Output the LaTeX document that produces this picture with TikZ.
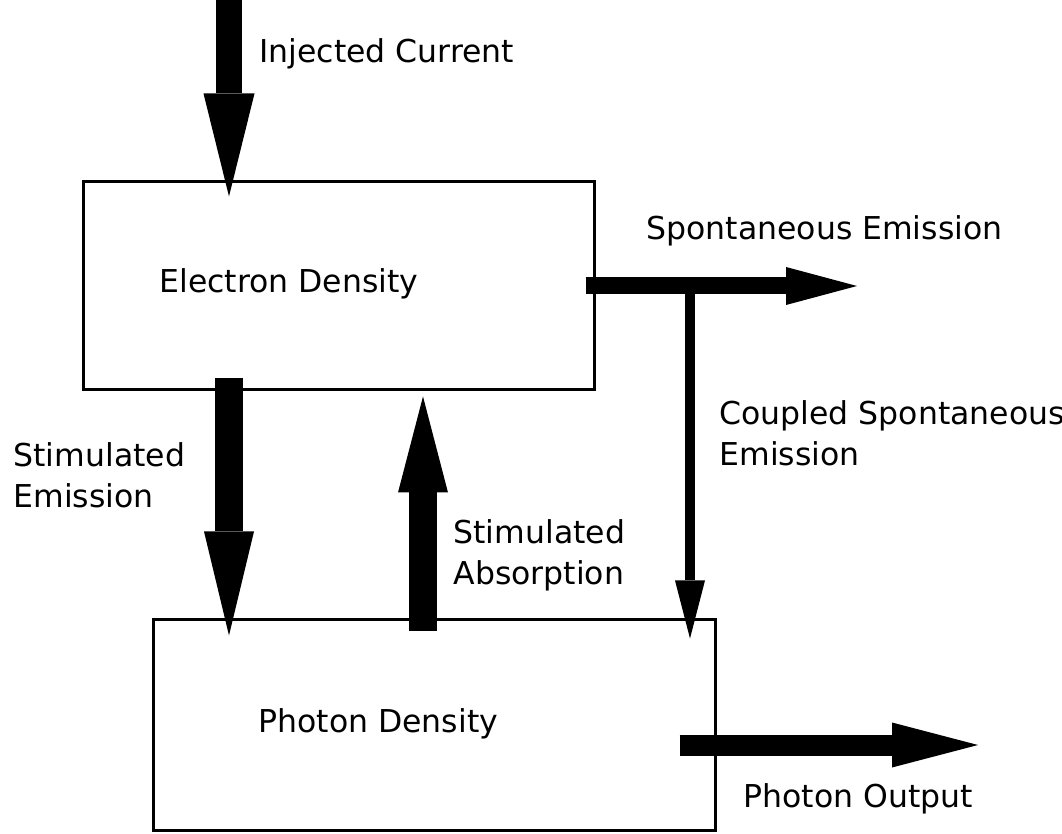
\documentclass[tikz,border=0pt]{standalone}
\usepackage{fontspec}
\setsansfont{DejaVu Sans}
\usetikzlibrary{arrows.meta, positioning, calc}
\tikzset{
  every picture/.style={font=\sffamily\fontsize{15.75}{20.5}\selectfont, line width=1.5pt},
  box/.style 2 args={draw, minimum width=#1, minimum height=#2, inner sep=0pt},
  flow/.style n args={3}{line width=#1, -{Triangle[length=#2, width=#3, line width=0pt 0]}},
  note/.style={inner sep=0pt, align=left},
}

\begin{document}
\begin{tikzpicture}[x=0.5pt, y=-0.5pt]
  \useasboundingbox (0,0) rectangle (1062,834);
  % the two rate equations
  \node[box={255.5pt}{104pt}] (eden) at (338.5,286) {};
  \node[box={281pt}{105pt}] (pden) at (434,725) {};
  \node[note, anchor=base west] (edenlab) at (158,293) {Electron Density};
  \node[note, anchor=base west] (pdenlab) at (257,733) {Photon Density};

  % free ends of the flows
  \coordinate (inj) at (229,0);
  \coordinate (sp) at (857,286);
  \coordinate (cs) at (690,286);
  \coordinate (se) at (229,0);
  \coordinate (sa) at (423,0);
  \coordinate (po) at (978,745);

  \draw[flow={13pt}{51.5pt}{25.5pt}] (inj) -- ($(eden.north -| inj)+(0,16)$);
  \draw[flow={8.5pt}{35.5pt}{19pt}] ($(eden.east)+(-10,0)$) -- (sp);
  \draw[flow={5pt}{29pt}{15pt}] (cs) -- ($(pden.north -| cs)+(0,20)$);
  \draw[flow={14pt}{52pt}{25pt}] ($(eden.south -| se)+(0,-13)$) -- ($(pden.north -| se)+(0,17)$);
  \draw[flow={14pt}{48pt}{25pt}] ($(pden.north -| sa)+(0,13)$) -- ($(eden.south -| sa)+(0,5)$);
  \draw[flow={10.5pt}{43pt}{22.5pt}] ($(pden.east |- po)+(-37,0)$) -- (po);

  % labels
  \node[note, anchor=base west] (injlab) at (258,63) {Injected Current};
  \node[note, anchor=base west] (splab) at (645,240) {Spontaneous Emission};
  \node[note, anchor=north west] (cslab) at (718,399) {Coupled Spontaneous\\Emission};
  \node[note, anchor=north west] (selab) at (12,441) {Stimulated\\Emission};
  \node[note, anchor=north west] (salab) at (452,518) {Stimulated\\Absorption};
  \node[note, anchor=base west] (polab) at (742,807) {Photon Output};
\end{tikzpicture}
\end{document}
